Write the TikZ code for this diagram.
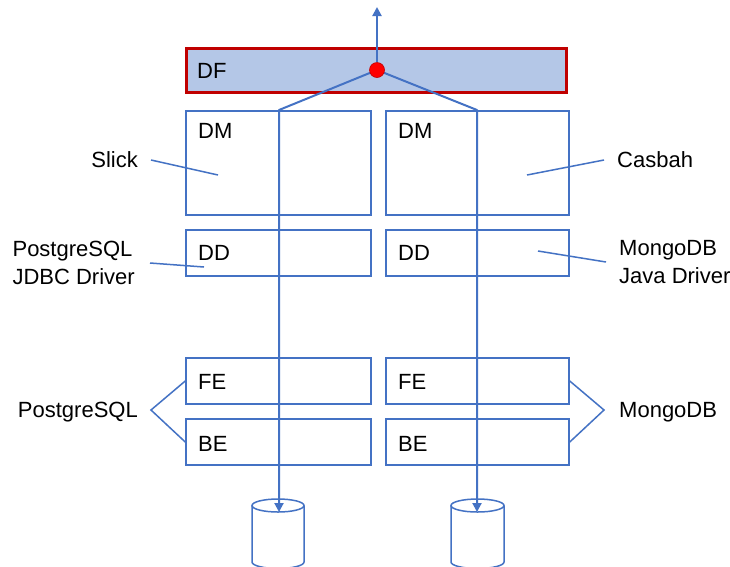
\documentclass[tikz,border=0pt]{standalone}
\usepackage{fontspec}
\setmainfont{Liberation Sans}
\usetikzlibrary{arrows.meta}
\definecolor{lineblue}{RGB}{68,114,196}
\definecolor{barfill}{RGB}{180,199,231}
\definecolor{barred}{RGB}{192,0,0}

\begin{document}
\begin{tikzpicture}[x=1pt,y=-1pt,
  font=\fontsize{22}{28}\selectfont,
  box/.style={draw=lineblue,line width=1.5pt,inner sep=0pt},
  flow/.style={draw=lineblue,line width=2pt,line join=round,-{Triangle[length=9pt,width=9pt]}},
  tag/.style={inner sep=0pt,text depth=0pt},
  dot/.style={circle,fill=red,draw=barred,line width=0.6pt,minimum size=15pt,inner sep=0pt}]
\useasboundingbox (0,0) rectangle (730,566);
\fill[white] (0,0) rectangle (730,566);

% boxes
\node[box,fill=barfill,draw=barred,line width=3pt,minimum width=380pt,minimum height=44pt] (dfBar) at (376.5,70) {};
\node[box,minimum width=185pt,minimum height=104pt] (dmSlick) at (278.5,163) {};
\node[box,minimum width=183pt,minimum height=104pt] (dmCasbah) at (477.5,163) {};
\node[box,minimum width=185pt,minimum height=46pt] (ddJdbc) at (278.5,253) {};
\node[box,minimum width=183pt,minimum height=46pt] (ddJava) at (477.5,253) {};
\node[box,minimum width=185pt,minimum height=46pt] (fePg) at (278.5,381) {};
\node[box,minimum width=183pt,minimum height=46pt] (feMongo) at (477.5,381) {};
\node[box,minimum width=185pt,minimum height=46pt] (bePg) at (278.5,442) {};
\node[box,minimum width=183pt,minimum height=46pt] (beMongo) at (477.5,442) {};

\node[tag,anchor=west] (dfText) at (197,71) {DF};
\node[tag,anchor=west] (dmSlickText) at (198,131) {DM};
\node[tag,anchor=west] (dmCasbahText) at (398,131) {DM};
\node[tag,anchor=west] (ddJdbcText) at (198,253) {DD};
\node[tag,anchor=west] (ddJavaText) at (398,253) {DD};
\node[tag,anchor=west] (fePgText) at (198,382) {FE};
\node[tag,anchor=west] (feMongoText) at (398,382) {FE};
\node[tag,anchor=west] (bePgText) at (198,444) {BE};
\node[tag,anchor=west] (beMongoText) at (398,444) {BE};

% side labels
\node[tag,anchor=east,inner xsep=13pt] (slick) at (151,160) {Slick};
\node[tag,anchor=west,inner xsep=13pt] (casbah) at (604,160) {Casbah};
\node[tag,anchor=east,align=left,inner xsep=15pt] (jdbc) at (150,263) {PostgreSQL\\JDBC Driver};
\node[tag,anchor=west,align=left,inner xsep=13pt] (javaDrv) at (606,262) {MongoDB\\Java Driver};
\node[tag,anchor=east,inner xsep=13pt] (pgLabel) at (151,410) {PostgreSQL};
\node[tag,anchor=west,inner xsep=15pt] (mongoLabel) at (604,410) {MongoDB};

\coordinate (slickEnd) at (218,175);
\coordinate (casbahEnd) at (527,175);
\coordinate (jdbcEnd) at (204,267);
\coordinate (javaEnd) at (538,251);
\draw[box] (slick.east) -- (slickEnd);
\draw[box] (casbahEnd) -- (casbah.west);
\draw[box] (jdbc.east) -- (jdbcEnd);
\draw[box] (javaEnd) -- (javaDrv.west);
\draw[box] (fePg.west) -- (pgLabel.east) -- (bePg.west);
\draw[box] (feMongo.east) -- (mongoLabel.west) -- (beMongo.east);

% databases
\draw[box] (252,505.5) -- (252,562) arc[start angle=180,end angle=0,x radius=26,y radius=6.5] -- (304,505.5);
\draw[box] (278,505.5) ellipse[x radius=26,y radius=6.5];
\draw[box] (451,505.5) -- (451,562) arc[start angle=180,end angle=0,x radius=26.5,y radius=6.5] -- (504,505.5);
\draw[box] (477.5,505.5) ellipse[x radius=26.5,y radius=6.5];

% flows
\coordinate (mergePt) at (377,70);
\coordinate (splitPg) at (279,110);
\coordinate (splitMongo) at (477,110);
\coordinate (pgTop) at (279,512);
\coordinate (mongoTop) at (477,512);
\coordinate (outTop) at (377,7);
\draw[flow] (mergePt) -- (splitPg) -- (pgTop);
\draw[flow] (mergePt) -- (splitMongo) -- (mongoTop);
\node[dot] (merge) at (mergePt) {};
\draw[flow] (merge.north) -- (outTop);
\end{tikzpicture}
\end{document}
